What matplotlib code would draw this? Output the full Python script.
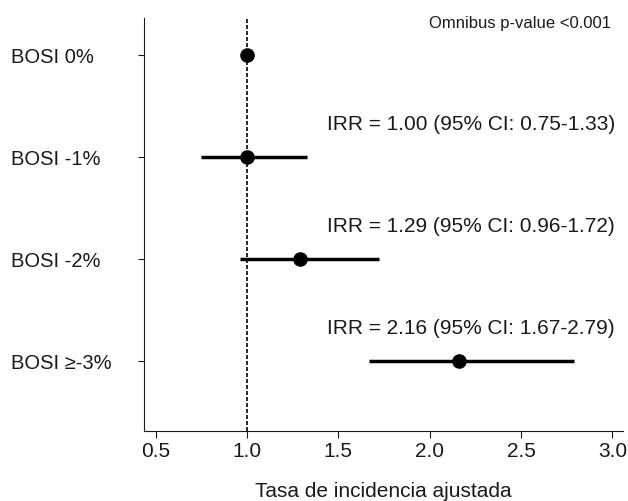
import matplotlib
matplotlib.use('Agg')
import matplotlib.pyplot as plt
import matplotlib.transforms as mtransforms

plt.rcParams['font.family'] = ['Liberation Sans', 'DejaVu Sans']

# rate ratios by BOSI group
groups = ['BOSI 0%', 'BOSI -1%', 'BOSI -2%', 'BOSI \u2265-3%']
irr = [1.00, 1.00, 1.29, 2.16]
ci_low = [None, 0.75, 0.96, 1.67]
ci_high = [None, 1.33, 1.72, 2.79]
x_ticks = [0.5, 1.0, 1.5, 2.0, 2.5, 3.0]

fig = plt.figure(figsize=(6.28, 5.02), dpi=100)
ax = fig.add_axes([0.2293, 0.1394, 0.7627, 0.8227])

ypos = list(range(len(groups), 0, -1))

# reference line at IRR = 1
ax.axvline(1.0, color='black', lw=1.2, linestyle=(0, (2.4, 1.2)), zorder=1)

for y, est, lo, hi in zip(ypos, irr, ci_low, ci_high):
    if lo is not None:
        ax.plot([lo, hi], [y, y], color='black', lw=2.5, solid_capstyle='butt', zorder=2)
    ax.plot(est, y, 'o', color='black', markersize=9.5, zorder=3)

trans = mtransforms.blended_transform_factory(ax.transAxes, ax.transData)
for y, est, lo, hi in zip(ypos, irr, ci_low, ci_high):
    if lo is None:
        continue
    ax.text(0.983, y + 0.33, f'IRR = {est:.2f} (95% CI: {lo:.2f}-{hi:.2f})',
            transform=trans, ha='right', va='center', fontsize=15, color='#1a1a1a')

ax.text(0.975, 0.99, 'Omnibus p-value <0.001', transform=ax.transAxes,
        ha='right', va='center', fontsize=12, color='#1a1a1a')

ax.set_xlim(0.436, 3.058)
ax.set_ylim(0.31, 4.36)
ax.set_xticks(x_ticks)
ax.set_xticklabels([f'{t:.1f}' for t in x_ticks])
ax.set_yticks(ypos)
ax.set_yticklabels(groups)
for lab in ax.get_yticklabels():
    lab.set_horizontalalignment('left')

ax.tick_params(axis='y', length=4.5, width=0.8, pad=91, labelsize=14.5, colors='#1a1a1a')
ax.tick_params(axis='x', length=5, width=0.8, pad=2.5, labelsize=15, colors='#1a1a1a')
ax.set_xlabel('Tasa de incidencia ajustada', fontsize=15, labelpad=14.5, color='#1a1a1a')

for side in ['top', 'right']:
    ax.spines[side].set_visible(False)
for side in ['left', 'bottom']:
    ax.spines[side].set_linewidth(0.8)
    ax.spines[side].set_color('#1a1a1a')

fig.savefig('out.png', dpi=100)
